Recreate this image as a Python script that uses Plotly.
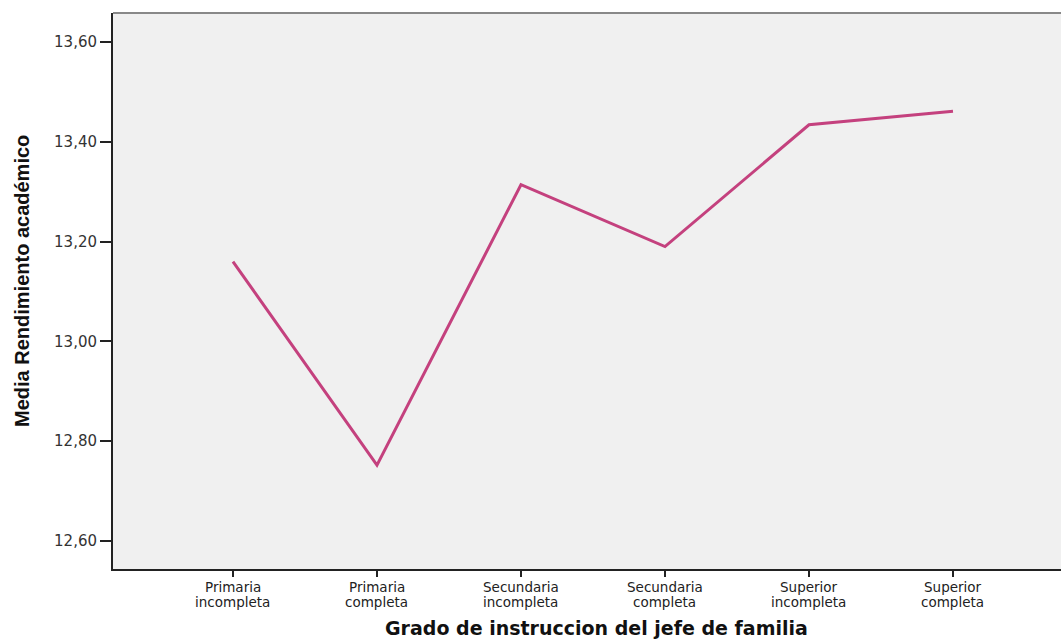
import plotly.graph_objects as go

categories = ["Primaria incompleta", "Primaria completa", "Secundaria incompleta",
              "Secundaria completa", "Superior incompleta", "Superior completa"]
means = [13.16, 12.752, 13.314, 13.19, 13.434, 13.461]
y_ticks = [12.6, 12.8, 13.0, 13.2, 13.4, 13.6]
x_title = "Grado de instruccion del jefe de familia"
y_title = "Media Rendimiento académico"

xs = list(range(len(categories)))
fig = go.Figure()
fig.add_trace(go.Scatter(
    x=xs, y=means, mode="lines",
    line=dict(color="#c4417e", width=3), hoverinfo="skip", showlegend=False))

fig.update_layout(
    width=1061, height=641,
    margin=dict(l=113, r=0, t=13, b=72),
    paper_bgcolor="white", plot_bgcolor="#f0f0f0",
    separators=",.",
    font=dict(family="DejaVu Sans", color="#222"),
    xaxis=dict(
        range=[-0.833, 5.75], tickmode="array", tickvals=xs,
        showticklabels=False,
        ticks="outside", ticklen=6, tickcolor="#222", tickwidth=1.5,
        showline=True, linecolor="#222", linewidth=2, showgrid=False, zeroline=False,
    ),
    yaxis=dict(
        range=[12.544, 13.658], tickmode="array", tickvals=y_ticks,
        tickformat=".2f", ticks="outside", ticklen=11, tickcolor="#222", tickwidth=1.5,
        showline=True, linecolor="#222", linewidth=2, showgrid=False, zeroline=False,
        tickfont=dict(family="DejaVu Sans", size=15, color="#333"),
    ),
)

# two-line category labels with tight line spacing
for x, cat in zip(xs, categories):
    first, second = cat.split(" ", 1)
    for line, shift in ((first, -18), (second, -33)):
        fig.add_annotation(x=x, xref="x", y=0, yref="paper", text=line, showarrow=False,
                           yanchor="middle", yshift=shift, borderpad=0,
                           font=dict(family="DejaVu Sans", size=13.5, color="#222"))

fig.add_annotation(x=(596 - 113) / 948, xref="paper", y=0, yref="paper",
                   text="<b>" + x_title + "</b>", showarrow=False, yanchor="middle", yshift=-59,
                   borderpad=0, font=dict(family="DejaVu Sans", size=19, color="#111"))
fig.add_annotation(x=0, xref="paper", xshift=-91, y=0.518, yref="paper",
                   text="<b>" + y_title + "</b>", showarrow=False, textangle=-90,
                   xanchor="center", yanchor="middle",
                   font=dict(family="Liberation Sans", size=20, color="#111"))

fig.add_shape(type="line", xref="paper", yref="paper", x0=0, x1=1, y0=1, y1=1,
              line=dict(color="#888", width=2))

fig.write_html("out.html", config={"displayModeBar": False},
               post_script="document.body.style.margin='0';")
